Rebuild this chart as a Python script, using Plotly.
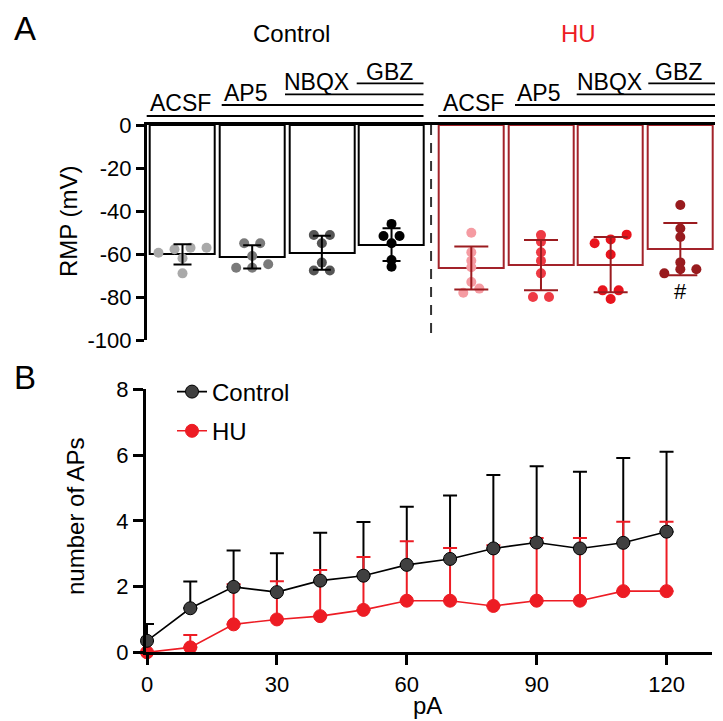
import numpy as np
import plotly.graph_objects as go

# The page body has an 8px margin, so the figure is drawn 8px smaller and
# all layout positions (given in screen pixels of the 723x721 window) are offset.
OFF = 8
W, H = 723 - OFF, 721 - OFF
FONT = "Liberation Sans, Arial, Helvetica, sans-serif"


def px(x):
    return (x - OFF) / W


def py(y):
    return 1 - (y - OFF) / H


# ---------------- Panel A data (RMP, mV) ----------------
conditions = ["ACSF", "AP5", "NBQX", "GBZ"]
control_mean = [-60.2, -61.3, -59.4, -55.6]
control_sd = [4.7, 5.4, 7.9, 7.6]
hu_mean = [-66.5, -65.2, -64.9, -57.7]
hu_sd = [10.0, 11.7, 12.85, 12.15]

control_acsf = [-59.4, -57.1, -57.8, -57.1, -62.0, -69.0]
control_ap5 = [-55.0, -55.0, -60.9, -64.8, -66.4, -66.4]
control_nbqx = [-51.2, -51.2, -55.0, -64.0, -67.7, -67.7]
control_gbz = [-46.0, -51.6, -51.6, -55.0, -62.8, -65.9]
hu_acsf = [-50.1, -59.2, -63.1, -66.2, -73.0, -78.0, -76.1]
hu_ap5 = [-51.2, -54.3, -59.2, -63.1, -69.0, -80.0, -80.0]
hu_nbqx = [-51.0, -53.2, -55.0, -60.2, -76.9, -76.9, -80.9]
hu_gbz = [-37.2, -48.1, -52.1, -63.9, -67.1, -69.0, -67.1]

rmp_ticks = [0, -20, -40, -60, -80, -100]
rmp_tick_labels = ["0", "-20", "-40", "-60", "-80", "-100"]

# ---------------- Panel B data (number of APs) ----------------
current_pA = [0, 10, 20, 30, 40, 50, 60, 70, 80, 90, 100, 110, 120]
control_aps = [0.35, 1.34, 1.99, 1.83, 2.18, 2.33, 2.66, 2.84, 3.16, 3.34, 3.16, 3.33, 3.67]
control_aps_sd = [0.51, 0.81, 1.11, 1.18, 1.46, 1.63, 1.77, 1.93, 2.23, 2.32, 2.33, 2.58, 2.43]
hu_aps = [0.0, 0.15, 0.85, 1.0, 1.10, 1.29, 1.57, 1.57, 1.41, 1.57, 1.57, 1.86, 1.86]
hu_aps_sd = [0.0, 0.38, 1.22, 1.16, 1.40, 1.61, 1.81, 1.60, 1.85, 1.91, 1.91, 2.11, 2.11]

pa_ticks = [0, 30, 60, 90, 120]
ap_ticks = [0, 2, 4, 6, 8]

# ---------------- styles ----------------
control_dot_colors = ["#a9a9a9", "#7a7a7a", "#555555", "#000000"]
hu_dot_colors = ["#f59ba2", "#ee3a44", "#e8141d", "#981b1e"]
HU_DARK = "#a3232a"
RED = "#ed1c24"

BAR_W = 0.933
HU_START = 4.145  # position of first HU bar (gap between groups)


def swarm_offsets(values, thr=2.5, step=0.23):
    v = np.asarray(values, dtype=float)
    order = np.argsort(v, kind="stable")
    offs = np.zeros(len(v))
    groups, cur = [], [order[0]]
    for a, b in zip(order[:-1], order[1:]):
        if abs(v[b] - v[a]) < thr:
            cur.append(b)
        else:
            groups.append(cur)
            cur = [b]
    groups.append(cur)
    for g in groups:
        n = len(g)
        for k, i in enumerate(g):
            offs[i] = (k - (n - 1) / 2) * step
    return offs


fig = go.Figure()

ctrl_x = list(range(len(conditions)))
hu_x = [HU_START + i for i in range(len(conditions))]

# bars
fig.add_trace(go.Bar(x=ctrl_x, y=control_mean, width=BAR_W, marker=dict(color="white", line=dict(color="black", width=2)),
                     showlegend=False, xaxis="x", yaxis="y"))
fig.add_trace(go.Bar(x=hu_x, y=hu_mean, width=BAR_W, marker=dict(color="white", line=dict(color=HU_DARK, width=2)),
                     showlegend=False, xaxis="x", yaxis="y"))

# dots
ctrl_groups = [control_acsf, control_ap5, control_nbqx, control_gbz]
hu_groups = [hu_acsf, hu_ap5, hu_nbqx, hu_gbz]
for xs, groups, colors in [(ctrl_x, ctrl_groups, control_dot_colors), (hu_x, hu_groups, hu_dot_colors)]:
    for xc, vals, col in zip(xs, groups, colors):
        offs = swarm_offsets(vals)
        fig.add_trace(go.Scatter(x=[xc + o for o in offs], y=vals, mode="markers",
                                 marker=dict(size=10, color=col, line=dict(width=0)),
                                 showlegend=False, xaxis="x", yaxis="y", cliponaxis=False))

# error bars panel A
fig.add_trace(go.Scatter(x=ctrl_x, y=control_mean, mode="markers", marker=dict(size=1, color="rgba(0,0,0,0)"),
                         error_y=dict(type="data", array=control_sd, color="black", thickness=2, width=9),
                         showlegend=False, xaxis="x", yaxis="y"))
fig.add_trace(go.Scatter(x=hu_x, y=hu_mean, mode="markers", marker=dict(size=1, color="rgba(0,0,0,0)"),
                         error_y=dict(type="data", array=hu_sd, color="#9b1b1f", thickness=2, width=17),
                         showlegend=False, xaxis="x", yaxis="y"))

# ---------------- Panel B ----------------
fig.add_trace(go.Scatter(x=current_pA, y=control_aps, mode="markers", marker=dict(size=1, color="rgba(0,0,0,0)"),
                         error_y=dict(type="data", array=control_aps_sd, arrayminus=[0] * len(control_aps),
                                      symmetric=False, color="black", thickness=2, width=7),
                         showlegend=False, xaxis="x2", yaxis="y2", cliponaxis=False))
fig.add_trace(go.Scatter(x=current_pA, y=hu_aps, mode="lines+markers", name="HU",
                         line=dict(color=RED, width=1.6),
                         marker=dict(size=13, color=RED, line=dict(color=RED, width=1)),
                         error_y=dict(type="data", array=hu_aps_sd, arrayminus=[0] * len(hu_aps),
                                      symmetric=False, color=RED, thickness=2, width=7),
                         legendrank=2, legendgroup="hu", xaxis="x2", yaxis="y2", cliponaxis=False))
fig.add_trace(go.Scatter(x=current_pA, y=control_aps, mode="lines+markers", name="Control",
                         line=dict(color="black", width=1.6),
                         marker=dict(size=13, color="#404040", line=dict(color="black", width=1)),
                         legendrank=1, legendgroup="ctrl", xaxis="x2", yaxis="y2", cliponaxis=False))

# ---------------- layout ----------------
shapes = []
# dashed separator
shapes.append(dict(type="line", xref="x", yref="y", x0=(3 + HU_START) / 2 - 0.005, x1=(3 + HU_START) / 2 - 0.005,
                   y0=0, y1=-100, line=dict(color="#333333", width=2, dash="10px,8px")))
# treatment brackets
bracket_y = [116, 105, 94.3, 83.3]
ctrl_starts = [146.7, 221.7, 285.0, 356.7]
hu_starts = [438.3, 515.0, 576.7, 648.3]
for yb, xs0 in zip(bracket_y, ctrl_starts):
    shapes.append(dict(type="line", xref="paper", yref="paper", x0=px(xs0), x1=px(423.5), y0=py(yb), y1=py(yb),
                       line=dict(color="black", width=1.8)))
for yb, xs0 in zip(bracket_y, hu_starts):
    shapes.append(dict(type="line", xref="paper", yref="paper", x0=px(xs0), x1=px(716.7), y0=py(yb), y1=py(yb),
                       line=dict(color="black", width=1.8)))

annotations = []


def ann(text, x, y, size, color="black", **kw):
    annotations.append(dict(text=text, x=px(x), y=py(y), xref="paper", yref="paper", showarrow=False,
                            xanchor="center", yanchor="middle", font=dict(family=FONT, size=size, color=color), **kw))


ann("A", 25, 28, 33)
ann("B", 25, 377, 33)
ann("Control", 291, 33, 24)
ann("HU", 578, 33, 24, color=RED)
label_pos_ctrl = [(180, 103.3), (245.7, 92.5), (316.7, 81.7), (389, 71.7)]
label_pos_hu = [(473.3, 103.3), (538.3, 92.5), (609, 81.7), (678.3, 71.7)]
for name, (x, y) in zip(conditions, label_pos_ctrl):
    ann(name, x, y, 23)
for name, (x, y) in zip(conditions, label_pos_hu):
    ann(name, x, y, 23)
ann("RMP (mV)", 68, 221, 24, textangle=-90)
ann("number of APs", 75, 517, 24, textangle=-90)
ann("pA", 427, 705, 24)
annotations.append(dict(text="#", x=hu_x[3], y=-77.5, xref="x", yref="y", showarrow=False,
                        xanchor="center", yanchor="middle", font=dict(family=FONT, size=22, color="black")))

fig.update_layout(
    template="none",
    width=W, height=H, margin=dict(l=0, r=0, t=0, b=0, pad=0, autoexpand=False),
    paper_bgcolor="white", plot_bgcolor="white",
    font=dict(family=FONT, size=22, color="black"),
    barmode="overlay", bargap=0,
    xaxis=dict(domain=[px(146.7), px(716.7)], range=[-0.514, 7.667], anchor="y", side="top",
               showline=True, linecolor="black", linewidth=3, showticklabels=False, ticks="",
               showgrid=False, zeroline=False, fixedrange=True, automargin=False),
    yaxis=dict(domain=[py(340), py(125)], range=[-100, 0], anchor="x",
               tickvals=rmp_ticks, ticktext=rmp_tick_labels, ticks="outside", ticklen=8, tickwidth=2.5,
               tickcolor="black", showline=True, linecolor="black", linewidth=2.5,
               showgrid=False, zeroline=False, tickfont=dict(size=22), fixedrange=True, automargin=False),
    xaxis2=dict(domain=[px(145.7), px(712)], range=[-0.3, 130.5], anchor="y2",
                tickvals=pa_ticks, ticks="outside", ticklen=10, tickwidth=2.5, tickcolor="black",
                showline=True, linecolor="black", linewidth=3, showgrid=False, zeroline=False,
                tickfont=dict(size=22), fixedrange=True, automargin=False),
    yaxis2=dict(domain=[py(652.3), py(389.3)], range=[0, 8], anchor="x2",
                tickvals=ap_ticks, ticks="outside", ticklen=10, tickwidth=2.5, tickcolor="black",
                showline=True, linecolor="black", linewidth=2.5, showgrid=False, zeroline=False,
                tickfont=dict(size=22), fixedrange=True, automargin=False),
    legend=dict(x=px(172), y=py(369.5), xanchor="left", yanchor="top", bgcolor="rgba(0,0,0,0)",
                font=dict(family=FONT, size=24), itemwidth=30, tracegroupgap=5),
    shapes=shapes, annotations=annotations,
)

fig.write_html("out.html")
